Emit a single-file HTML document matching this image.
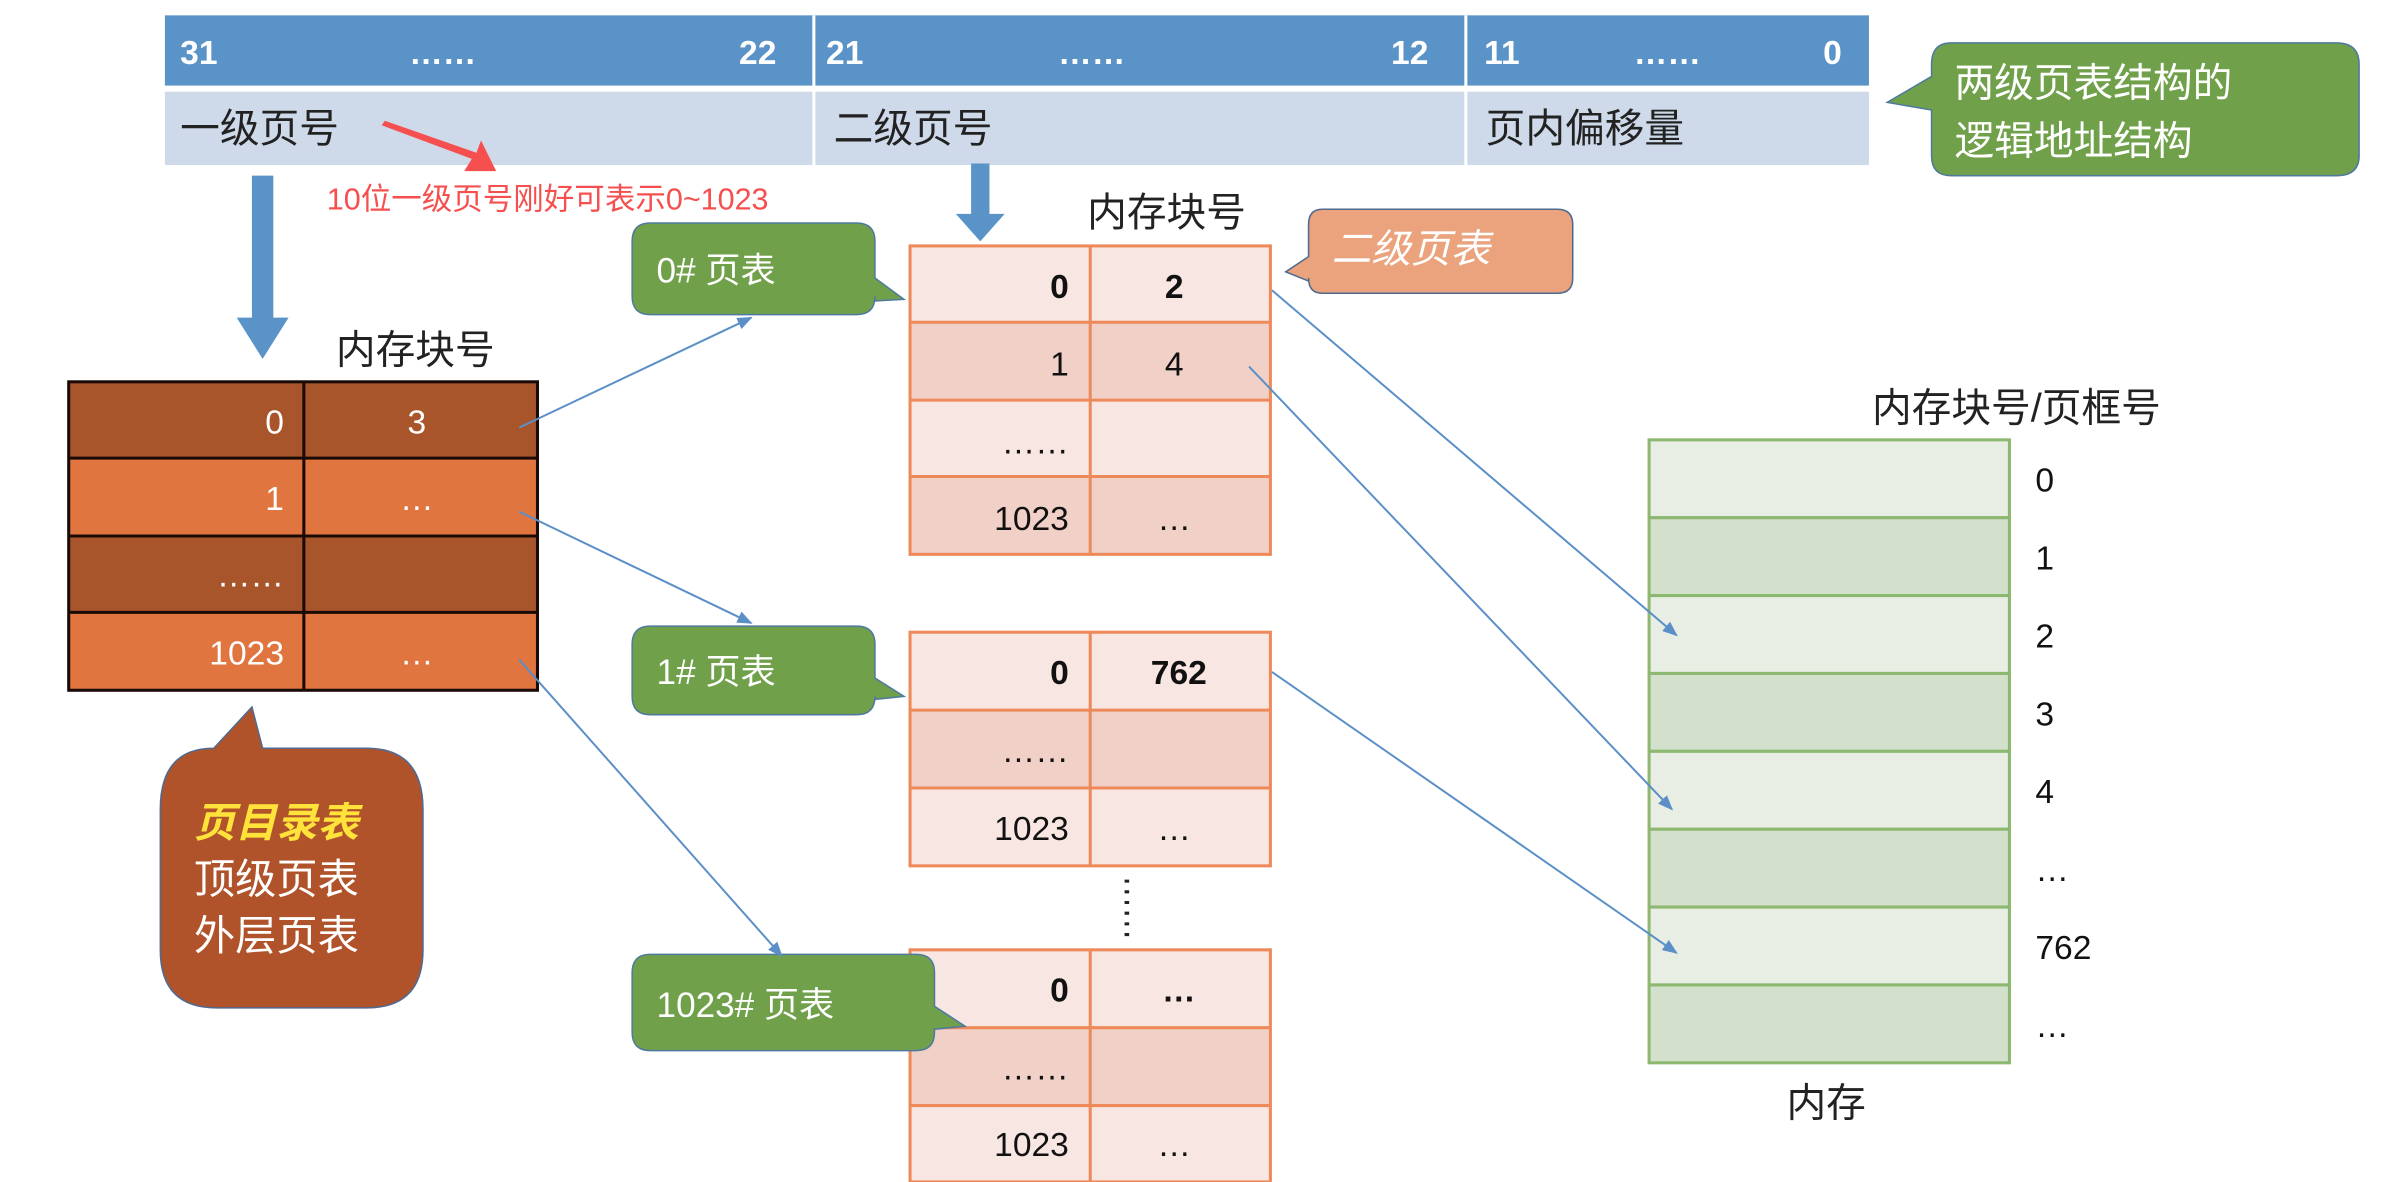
<!DOCTYPE html>
<html><head><meta charset="utf-8"><style>
html,body{margin:0;padding:0;background:#fff;}
svg{display:block;}
text{font-family:"Liberation Sans","Noto Sans CJK SC",sans-serif;}
</style></head><body>
<svg width="2382" height="1182" viewBox="0 0 1560 774" xmlns="http://www.w3.org/2000/svg">
<defs>
<marker id="ah" markerWidth="10" markerHeight="8" refX="9" refY="4" orient="auto" markerUnits="userSpaceOnUse"><path d="M0,0 L10,4 L0,8 z" fill="#5B8FC7"/></marker>
</defs>
<!-- top address bar -->
<rect x="108" y="10" width="1116" height="46" fill="#5A93C8"/>
<rect x="108" y="60" width="1116" height="48" fill="#CED9E9"/>
<line x1="533" y1="10" x2="533" y2="108" stroke="#fff" stroke-width="2"/>
<line x1="960" y1="10" x2="960" y2="108" stroke="#fff" stroke-width="2"/>
<g fill="#fff" font-size="22" font-weight="bold">
<text x="118" y="42">31</text><text x="268" y="42">……</text><text x="484" y="42">22</text>
<text x="541" y="42">21</text><text x="693" y="42">……</text><text x="911" y="42">12</text>
<text x="972" y="42">11</text><text x="1070" y="42">……</text><text x="1194" y="42">0</text>
</g>
<g fill="#222" font-size="26">
<text x="118" y="93">一级页号</text><text x="546" y="93">二级页号</text><text x="973" y="93">页内偏移量</text>
</g>
<!-- red arrow -->
<polygon points="252,79 312,100 315,92 325,112 304,112 309,104 250,82" fill="#F5504F"/>
<text x="214" y="137" font-size="20" fill="#F5504F">10位一级页号刚好可表示0~1023</text>
<!-- green top callout -->
<path d="M1278,28 H1530 Q1545,28 1545,42 V102 Q1545,115 1530,115 H1278 Q1265,115 1265,102 V72 L1236,67 L1265,50 V42 Q1265,28 1278,28 z" fill="#70A04A" stroke="#4F7A9E" stroke-width="1"/>
<text x="1280" y="63" font-size="26" fill="#fff">两级页表结构的</text>
<text x="1280" y="101" font-size="26" fill="#fff">逻辑地址结构</text>
<!-- blue down arrows -->
<polygon points="165,115 179,115 179,208 189,208 172,235 155,208 165,208" fill="#5A93C8"/>
<polygon points="636,107 648,107 648,140 658,140 642,158 626,140 636,140" fill="#5A93C8"/>
<text x="220" y="238" font-size="26" fill="#222">内存块号</text>
<text x="712" y="148" font-size="26" fill="#222">内存块号</text>
<!-- left table -->
<rect x="45" y="250" width="307" height="50" fill="#A9552C"/>
<rect x="45" y="300" width="307" height="51" fill="#E07540"/>
<rect x="45" y="351" width="307" height="50" fill="#A9552C"/>
<rect x="45" y="401" width="307" height="51" fill="#E07540"/>
<g stroke="#1a0a05" stroke-width="2" fill="none">
<rect x="45" y="250" width="307" height="202"/>
<line x1="199" y1="250" x2="199" y2="452"/>
<line x1="45" y1="300" x2="352" y2="300"/><line x1="45" y1="351" x2="352" y2="351"/><line x1="45" y1="401" x2="352" y2="401"/>
</g>
<g fill="#fff" font-size="22">
<text x="186" y="284" text-anchor="end">0</text><text x="273" y="284" text-anchor="middle">3</text>
<text x="186" y="334" text-anchor="end">1</text><text x="273" y="334" text-anchor="middle">…</text>
<text x="186" y="384" text-anchor="end">……</text>
<text x="186" y="435" text-anchor="end">1023</text><text x="273" y="435" text-anchor="middle">…</text>
</g>
<!-- brown callout -->
<path d="M140,490 L165,463 L172,490 H240 Q277,490 277,530 V622 Q277,660 240,660 H142 Q105,660 105,622 V530 Q105,490 140,490 z" fill="#B0532A" stroke="#4F6A90" stroke-width="1"/>
<text x="127" y="548" font-size="27" fill="#FFE23A" font-weight="bold" font-style="italic">页目录表</text>
<text x="127" y="585" font-size="27" fill="#fff">顶级页表</text>
<text x="127" y="622" font-size="27" fill="#fff">外层页表</text>
<!-- second-level tables -->
<g id="t0">
<rect x="596" y="161" width="236" height="50" fill="#F8E6E2"/>
<rect x="596" y="211" width="236" height="51" fill="#F1D0C7"/>
<rect x="596" y="262" width="236" height="50" fill="#F8E6E2"/>
<rect x="596" y="312" width="236" height="51" fill="#F1D0C7"/>
<g stroke="#EE8A5A" stroke-width="2" fill="none">
<rect x="596" y="161" width="236" height="202"/>
<line x1="714" y1="161" x2="714" y2="363"/>
<line x1="596" y1="211" x2="832" y2="211"/><line x1="596" y1="262" x2="832" y2="262"/><line x1="596" y1="312" x2="832" y2="312"/>
</g>
</g>
<g fill="#111" font-size="22">
<text x="700" y="195" text-anchor="end" font-weight="bold">0</text><text x="769" y="195" text-anchor="middle" font-weight="bold">2</text>
<text x="700" y="246" text-anchor="end">1</text><text x="769" y="246" text-anchor="middle">4</text>
<text x="700" y="297" text-anchor="end">……</text>
<text x="700" y="347" text-anchor="end">1023</text><text x="769" y="347" text-anchor="middle">…</text>
</g>
<rect x="596" y="414" width="236" height="51" fill="#F8E6E2"/>
<rect x="596" y="465" width="236" height="51" fill="#F1D0C7"/>
<rect x="596" y="516" width="236" height="51" fill="#F8E6E2"/>
<g stroke="#EE8A5A" stroke-width="2" fill="none">
<rect x="596" y="414" width="236" height="153"/>
<line x1="714" y1="414" x2="714" y2="567"/>
<line x1="596" y1="465" x2="832" y2="465"/><line x1="596" y1="516" x2="832" y2="516"/>
</g>
<g fill="#111" font-size="22">
<text x="700" y="448" text-anchor="end" font-weight="bold">0</text><text x="772" y="448" text-anchor="middle" font-weight="bold">762</text>
<text x="700" y="499" text-anchor="end">……</text>
<text x="700" y="550" text-anchor="end">1023</text><text x="769" y="550" text-anchor="middle">…</text>
</g>
<rect x="596" y="622" width="236" height="51" fill="#F8E6E2"/>
<rect x="596" y="673" width="236" height="51" fill="#F1D0C7"/>
<rect x="596" y="724" width="236" height="50" fill="#F8E6E2"/>
<g stroke="#EE8A5A" stroke-width="2" fill="none">
<rect x="596" y="622" width="236" height="152"/>
<line x1="714" y1="622" x2="714" y2="774"/>
<line x1="596" y1="673" x2="832" y2="673"/><line x1="596" y1="724" x2="832" y2="724"/>
</g>
<g fill="#111" font-size="22">
<text x="700" y="656" text-anchor="end" font-weight="bold">0</text><text x="772" y="656" text-anchor="middle" font-weight="bold">…</text>
<text x="700" y="707" text-anchor="end">……</text>
<text x="700" y="757" text-anchor="end">1023</text><text x="769" y="757" text-anchor="middle">…</text>
</g>
<line x1="738" y1="576" x2="738" y2="616" stroke="#222" stroke-width="3" stroke-dasharray="2,5"/>
<!-- green callouts -->
<path d="M426,146 H561 Q573,146 573,158 V182 L592,196 L573,197 V194 Q573,206 561,206 H426 Q414,206 414,194 V158 Q414,146 426,146 z" fill="#70A04A" stroke="#4F7A9E" stroke-width="1"/>
<text x="430" y="185" font-size="23" fill="#fff">0# 页表</text>
<path d="M426,410 H561 Q573,410 573,422 V444 L592,456 L573,458 V456 Q573,468 561,468 H426 Q414,468 414,456 V422 Q414,410 426,410 z" fill="#70A04A" stroke="#4F7A9E" stroke-width="1"/>
<text x="430" y="448" font-size="23" fill="#fff">1# 页表</text>
<path d="M426,625 H600 Q612,625 612,637 V659 L632,672 L612,674 V676 Q612,688 600,688 H426 Q414,688 414,676 V637 Q414,625 426,625 z" fill="#70A04A" stroke="#4F7A9E" stroke-width="1"/>
<text x="430" y="666" font-size="23" fill="#fff">1023# 页表</text>
<!-- orange callout -->
<path d="M866,137 H1020 Q1030,137 1030,147 V182 Q1030,192 1020,192 H866 Q857,192 857,182 V184 L842,178 L857,168 V147 Q857,137 866,137 z" fill="#EAA37C" stroke="#4F6A90" stroke-width="1"/>
<text x="872" y="172" font-size="26" fill="#fff" font-style="italic">二级页表</text>
<!-- memory -->
<g stroke="#8DB870" stroke-width="2">
<rect x="1080" y="288" width="236" height="51" fill="#E8EEE4"/>
<rect x="1080" y="339" width="236" height="51" fill="#D3E0CC"/>
<rect x="1080" y="390" width="236" height="51" fill="#E8EEE4"/>
<rect x="1080" y="441" width="236" height="51" fill="#D3E0CC"/>
<rect x="1080" y="492" width="236" height="51" fill="#E8EEE4"/>
<rect x="1080" y="543" width="236" height="51" fill="#D3E0CC"/>
<rect x="1080" y="594" width="236" height="51" fill="#E8EEE4"/>
<rect x="1080" y="645" width="236" height="51" fill="#D3E0CC"/>
</g>
<g fill="#111" font-size="22">
<text x="1333" y="322">0</text><text x="1333" y="373">1</text><text x="1333" y="424">2</text><text x="1333" y="475">3</text>
<text x="1333" y="526">4</text><text x="1333" y="577">…</text><text x="1333" y="628">762</text><text x="1333" y="679">…</text>
</g>
<text x="1226" y="276" font-size="26" fill="#222">内存块号/页框号</text>
<text x="1170" y="731" font-size="26" fill="#222">内存</text>
<!-- connectors -->
<g stroke="#5B8FC7" stroke-width="1.3" marker-end="url(#ah)">
<line x1="340" y1="280" x2="492" y2="208"/>
<line x1="340" y1="335" x2="492" y2="408"/>
<line x1="340" y1="432" x2="512" y2="626"/>
<line x1="833" y1="190" x2="1098" y2="416"/>
<line x1="818" y1="240" x2="1095" y2="530"/>
<line x1="833" y1="440" x2="1098" y2="624"/>
</g>
</svg>
</body></html>
